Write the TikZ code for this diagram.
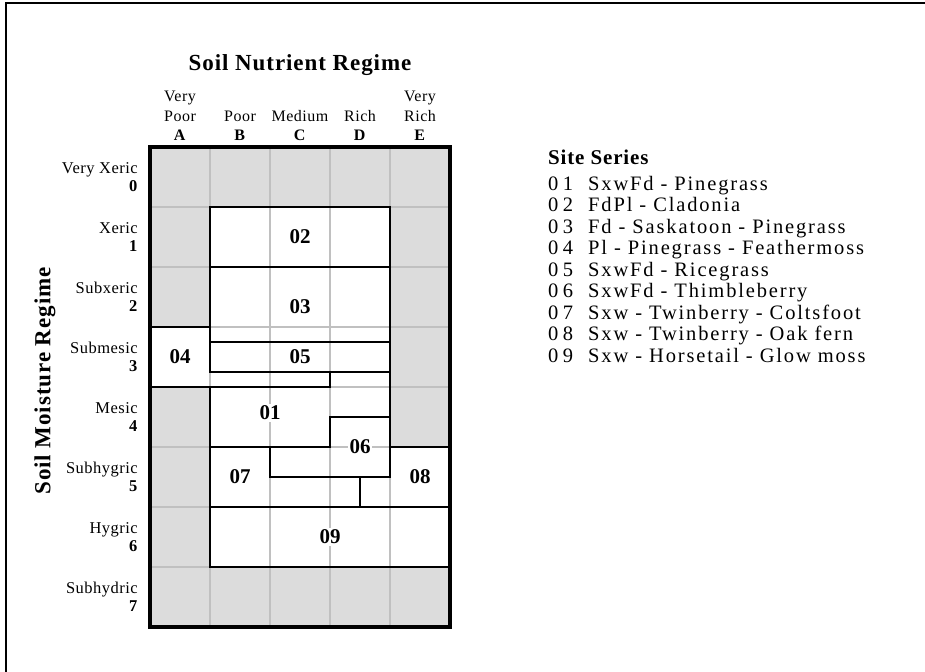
\documentclass[tikz,border=0pt]{standalone}
\usepackage{fontspec}
\setmainfont{Liberation Serif}
\newfontfamily\legendfont[LetterSpace=9]{Liberation Serif}
\newfontfamily\numfont[LetterSpace=22]{Liberation Serif}
\newfontfamily\titlefont[LetterSpace=4]{Liberation Serif}
\newfontfamily\labelfont[LetterSpace=3]{Liberation Serif}
\definecolor{cellgray}{HTML}{DCDCDC}
\definecolor{gridgray}{HTML}{C0C0C0}

\begin{document}
\begin{tikzpicture}[x=1bp, y=-1bp,
  gridline/.style={draw=gridgray, line width=1.8bp},
  boundary/.style={line width=2.5bp, line cap=rect},
  rowlab/.style={anchor=east, align=right, inner sep=0pt,
    font=\fontsize{16.5bp}{18.5bp}\labelfont},
  collab/.style={anchor=south, align=center, inner sep=0pt,
    font=\fontsize{16bp}{19.5bp}\labelfont},
  sitelab/.style={fill=white, inner sep=1.5bp,
    font=\fontsize{21bp}{23bp}\selectfont\bfseries},
  titlelab/.style={inner sep=0pt, font=\fontsize{23bp}{26bp}\titlefont\bfseries},
  legendlab/.style={anchor=base west, inner sep=0pt,
    font=\fontsize{20.5bp}{23bp}\legendfont}]
  \useasboundingbox (0,0) rectangle (925,672);
  % page frame
  \draw[line width=2bp] (6,672) -- (6,3) -- (925,3);

  % Grid: gray background, white site areas
  \fill[cellgray] (150,147) rectangle (450,627);
  \fill[white] (210,207) rectangle (390,507);
  \fill[white] (150,327) rectangle (210,387);
  \fill[white] (390,447) rectangle (450,507);
  \fill[white] (210,507) rectangle (450,567);
  \foreach \x in {210,270,330,390} \draw[gridline] (\x,147) -- (\x,627);
  \foreach \y in {207,267,...,567} \draw[gridline] (150,\y) -- (450,\y);

  % Site series boundaries
  \draw[boundary] (210,372) -- (210,207) -- (390,207) -- (390,477);
  \draw[boundary] (210,387) -- (210,567) -- (450,567);
  \draw[boundary] (210,267) -- (390,267);
  \draw[boundary] (150,327) -- (210,327);
  \draw[boundary] (210,342) -- (390,342);
  \draw[boundary] (210,372) -- (390,372);
  \draw[boundary] (150,387) -- (330,387) -- (330,372);
  \draw[boundary] (390,417) -- (330,417) -- (330,447) -- (210,447);
  \draw[boundary] (270,447) -- (270,477) -- (390,477);
  \draw[boundary] (360,477) -- (360,507);
  \draw[boundary] (390,447) -- (450,447);
  \draw[boundary] (210,507) -- (450,507);
  \draw[line width=3.5bp] (150,147) rectangle (450,627);

  % Site series numbers
  \node[sitelab] (s01) at (270,413) {01};
  \node[sitelab] (s02) at (300,237) {02};
  \node[sitelab] (s03) at (300,307) {03};
  \node[sitelab] (s04) at (180,357) {04};
  \node[sitelab] (s05) at (300,357) {05};
  \node[sitelab] (s06) at (360,447) {06};
  \node[sitelab] (s07) at (240,477) {07};
  \node[sitelab] (s08) at (420,477) {08};
  \node[sitelab] (s09) at (330,537) {09};

  % Nutrient axis
  \node[titlelab, anchor=base] (nutrient) at (300,71) {Soil Nutrient Regime};
  \foreach \name/\code [count=\j from 0] in {{Very\\Poor}/A, Poor/B, Medium/C, Rich/D, {Very\\Rich}/E}
    \node[collab] (col\code) at ({180+60*\j},141) {\name\\\textbf{\code}};

  % Moisture axis
  \node[titlelab, rotate=90] (moisture) at (45,381) {Soil Moisture Regime};
  \foreach \name [count=\i from 0] in {Very Xeric, Xeric, Subxeric, Submesic, Mesic, Subhygric, Hygric, Subhydric}
    \node[rowlab] (row\i) at (138,{177+60*\i}) {\name\\\textbf{\i}};

  % Legend
  \node[anchor=base west, inner sep=0pt, font=\fontsize{21bp}{24bp}\titlefont\bfseries] (legend) at (548,165) {Site Series};
  \foreach \txt [count=\k] in {SxwFd - Pinegrass, FdPl - Cladonia, Fd - Saskatoon - Pinegrass,
      Pl - Pinegrass - Feathermoss, SxwFd - Ricegrass, SxwFd - Thimbleberry,
      Sxw - Twinberry - Coltsfoot, Sxw - Twinberry - Oak fern, Sxw - Horsetail - Glow moss} {
    \node[legendlab, font=\fontsize{20.5bp}{23bp}\numfont] (num\k) at (548,{168.5+21.5*\k}) {0\k};
    \node[legendlab] (site\k) at (588,{168.5+21.5*\k}) {\txt};
  }
\end{tikzpicture}
\end{document}
